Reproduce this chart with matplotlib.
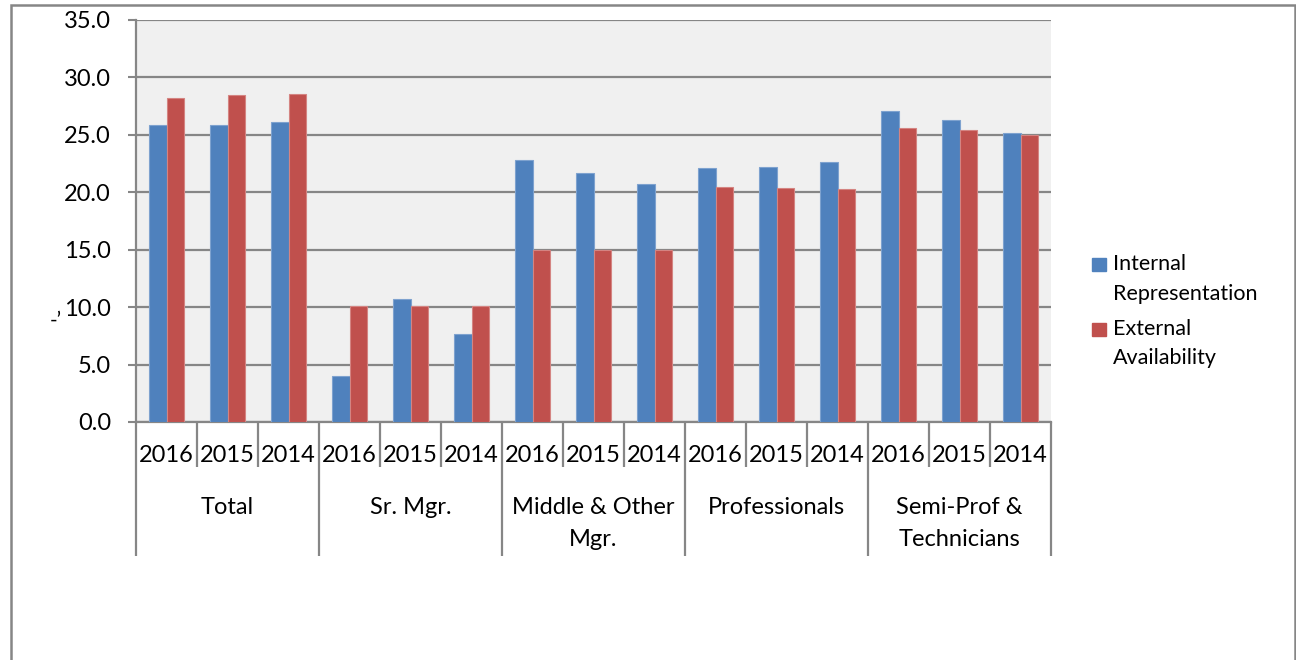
import matplotlib
matplotlib.use('Agg')
import matplotlib.pyplot as plt
from matplotlib.patches import Rectangle
from matplotlib.transforms import blended_transform_factory
import numpy as np

plt.rcParams['font.family'] = ['Lato', 'DejaVu Sans']

# data
GROUPS = ['Total', 'Sr. Mgr.', 'Middle & Other\nMgr.', 'Professionals', 'Semi-Prof &\nTechnicians']
YEARS = ['2016', '2015', '2014']
INTERNAL = [25.9, 25.9, 26.1,
            4.0, 10.7, 7.7,
            22.8, 21.7, 20.7,
            22.1, 22.2, 22.6,
            27.1, 26.3, 25.2]
EXTERNAL = [28.2, 28.5, 28.6,
            10.1, 10.1, 10.1,
            15.0, 15.0, 15.0,
            20.5, 20.4, 20.3,
            25.6, 25.4, 25.0]
SERIES = ['Internal\nRepresentation', 'External\nAvailability']

C_BLUE = '#4F81BD'
C_RED = '#C0504D'
C_GRID = '#868686'
FS = 17

W, H = 1296, 660
fig = plt.figure(figsize=(W / 100, H / 100), dpi=100)

# outer chart frame
fig.patches.append(Rectangle((11 / W, -0.05), (1295 - 11) / W, 1.05 - 5 / H,
                             transform=fig.transFigure, fill=False,
                             edgecolor=C_GRID, linewidth=1.8))

ax = fig.add_axes([136 / W, 1 - 422 / H, (1051 - 136) / W, (422 - 20) / H])
ax.set_facecolor('#F0F0F0')

x = np.arange(len(INTERNAL))
bw = 0.29
ax.bar(x - bw / 2, INTERNAL, bw, color=C_BLUE, edgecolor='#7EA2CF', linewidth=0.8, zorder=3)
ax.bar(x + bw / 2, EXTERNAL, bw, color=C_RED, edgecolor='#D48482', linewidth=0.8, zorder=3)

ax.set_xlim(-0.5, len(x) - 0.5)
ax.set_ylim(0, 35)
ax.set_yticks(np.arange(0, 36, 5))
ax.set_yticklabels([f'{v:.1f}' for v in np.arange(0, 36, 5)], fontsize=FS)
ax.yaxis.grid(True, color=C_GRID, linewidth=1.6, zorder=1)
ax.set_axisbelow(True)
ax.tick_params(axis='y', length=6, width=1.5, color=C_GRID, pad=12)
ax.set_xticks([])
for s in ['top', 'right']:
    ax.spines[s].set_visible(False)
for s in ['left', 'bottom']:
    ax.spines[s].set_color(C_GRID)
    ax.spines[s].set_linewidth(1.6)

# two-level category axis (axes height = 402 px)
tr = blended_transform_factory(ax.transData, ax.transAxes)
for i, yr in enumerate(YEARS * len(GROUPS)):
    ax.text(i, -33 / 402, yr, transform=tr, ha='center', va='center', fontsize=FS)
for b in np.arange(-0.5, len(x), 1.0):
    bottom = -134 / 402 if int(b + 0.5) % 3 == 0 else -45 / 402
    ax.plot([b, b], [0, bottom], transform=tr, color=C_GRID, linewidth=1.6,
            clip_on=False, solid_capstyle='butt')
for g, name in enumerate(GROUPS):
    for j, line in enumerate(name.split('\n')):
        ax.text(3 * g + 1, -(85 + 33 * j) / 402, line, transform=tr,
                ha='center', va='center', fontsize=FS)

# legend
for k, (lab, col) in enumerate(zip(SERIES, [C_BLUE, C_RED])):
    top = 258 + k * 65
    fig.patches.append(Rectangle((1092 / W, 1 - (top + 13) / H), 14 / W, 13 / H,
                                 transform=fig.transFigure, color=col))
    for j, line in enumerate(lab.split('\n')):
        fig.text(1113 / W, 1 - (top + 6 + 29.5 * j) / H, line, ha='left',
                 va='center', fontsize=15.5)

# clipped axis-title fragment at the left edge
fig.text(56 / W, 1 - 321 / H, '-\u2019', fontsize=15, ha='center', va='center')

fig.savefig('out.png', dpi=100)
